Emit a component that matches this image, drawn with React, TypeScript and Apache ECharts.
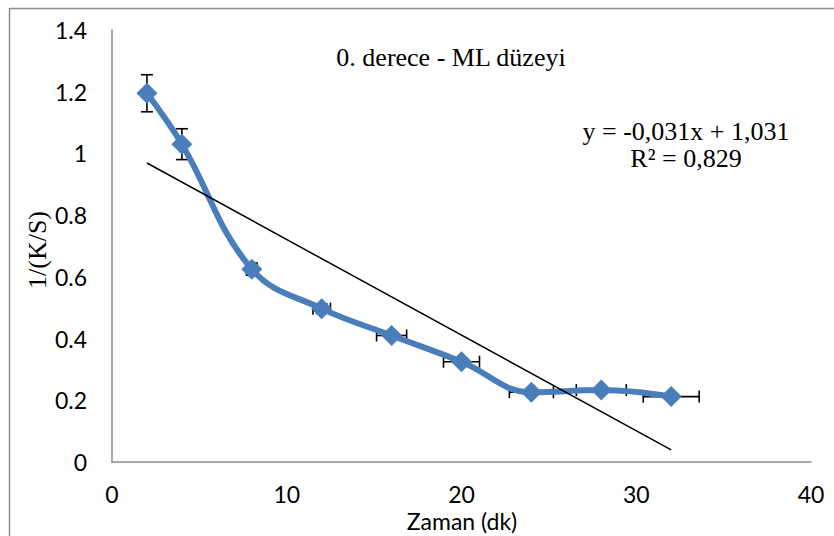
import React, { useEffect, useRef } from "react";
import * as echarts from "echarts";

const xValues = [2, 4, 8, 12, 16, 20, 24, 28, 32];
const yValues = [1.195, 1.03, 0.625, 0.497, 0.41, 0.325, 0.226, 0.233, 0.212];
const yErrors = [0.06, 0.05, 0.02, 0.015, 0.01, 0.01, 0.01, 0.01, 0.01];
const xErrors = [0, 0, 0.3, 0.5, 0.86, 1.03, 1.26, 1.43, 1.6];
const trendX = [2, 32];
const slope = -0.031;
const intercept = 1.031;
const titleText = "0. derece - ML düzeyi";
const eqLine1 = "y = -0,031x + 1,031";
const eqLine2 = "R² = 0,829";
const xName = "Zaman (dk)";
const yName = "1/(K/S)";

export default function App() {
  const ref = useRef<HTMLDivElement>(null);
  useEffect(() => {
    if (!ref.current) return;
    const chart = echarts.init(ref.current, undefined, { renderer: "svg" });
    const mainData = xValues.map((x, i) => [x, yValues[i]]);
    const errData = xValues.map((x, i) => [x, yValues[i], xErrors[i], yErrors[i]]);
    const trendData = trendX.map((x) => [x, slope * x + intercept]);
    const sans = "Lato";
    const serif = "Liberation Serif";
    const serifText = (text: string, x: number, y: number, size: number, rotation = 0) => ({
      type: "text",
      x,
      y,
      rotation,
      style: {
        text,
        fontFamily: serif,
        fontSize: size,
        fill: "#000",
        align: "center",
        verticalAlign: "middle",
      },
    });
    chart.setOption({
      animation: false,
      backgroundColor: "#ffffff",
      grid: { left: 112, right: 23, top: 30, bottom: 74 },
      xAxis: {
        type: "value",
        min: 0,
        max: 40,
        interval: 10,
        splitLine: { show: false },
        axisTick: { show: false },
        axisLine: { show: true, onZero: false, lineStyle: { color: "#8a8a8a", width: 1.5 } },
        axisLabel: { color: "#000", fontFamily: sans, fontSize: 23, margin: 20 },
      },
      yAxis: {
        type: "value",
        min: 0,
        max: 1.4,
        interval: 0.2,
        splitLine: { show: false },
        axisTick: { show: false },
        axisLine: { show: true, lineStyle: { color: "#8a8a8a", width: 1.5 } },
        axisLabel: { color: "#000", fontFamily: sans, fontSize: 23, margin: 25 },
      },
      graphic: [
        { type: "line", shape: { x1: 10, y1: 8.5, x2: 834, y2: 8.5 }, style: { stroke: "#8c8c8c", lineWidth: 1.5 } },
        { type: "line", shape: { x1: 9.5, y1: 8, x2: 9.5, y2: 536 }, style: { stroke: "#8c8c8c", lineWidth: 1.5 } },
        serifText(titleText, 451, 57, 26),
        serifText(eqLine1, 686, 131, 26),
        serifText(eqLine2, 686, 158, 26),
        serifText(yName, 37, 250, 26, Math.PI / 2),
        {
          type: "text",
          x: 462,
          y: 521,
          style: { text: xName, fontFamily: sans, fontSize: 23, fill: "#000", align: "center", verticalAlign: "middle" },
        },
      ],
      series: [
        {
          type: "custom",
          z: 1,
          data: errData,
          renderItem: (params: any, api: any) => {
            const x = api.value(0);
            const y = api.value(1);
            const ex = api.value(2);
            const ey = api.value(3);
            const c = api.coord([x, y]);
            const children: any[] = [];
            const style = { stroke: "#000", lineWidth: 1.6 };
            const cap = 6;
            if (ey > 0) {
              const top = api.coord([x, y + ey]);
              const bot = api.coord([x, y - ey]);
              children.push({ type: "line", shape: { x1: c[0], y1: top[1], x2: c[0], y2: bot[1] }, style });
              children.push({ type: "line", shape: { x1: c[0] - cap, y1: top[1], x2: c[0] + cap, y2: top[1] }, style });
              children.push({ type: "line", shape: { x1: c[0] - cap, y1: bot[1], x2: c[0] + cap, y2: bot[1] }, style });
            }
            if (ex > 0) {
              const l = api.coord([x - ex, y]);
              const r = api.coord([x + ex, y]);
              children.push({ type: "line", shape: { x1: l[0], y1: c[1], x2: r[0], y2: c[1] }, style });
              children.push({ type: "line", shape: { x1: l[0], y1: c[1] - cap, x2: l[0], y2: c[1] + cap }, style });
              children.push({ type: "line", shape: { x1: r[0], y1: c[1] - cap, x2: r[0], y2: c[1] + cap }, style });
            }
            return { type: "group", children };
          },
        },
        {
          type: "line",
          z: 2,
          data: mainData,
          smooth: 0.4,
          symbol: "diamond",
          symbolSize: 21,
          lineStyle: { color: "#4a7ebb", width: 6 },
          itemStyle: { color: "#4a7ebb" },
        },
        {
          type: "line",
          z: 3,
          data: trendData,
          symbol: "none",
          lineStyle: { color: "#000", width: 1.5 },
        },
      ],
    });
    return () => chart.dispose();
  }, []);
  return <div ref={ref} style={{ position: "fixed", left: 0, top: 0, width: 834, height: 536 }} />;
}
